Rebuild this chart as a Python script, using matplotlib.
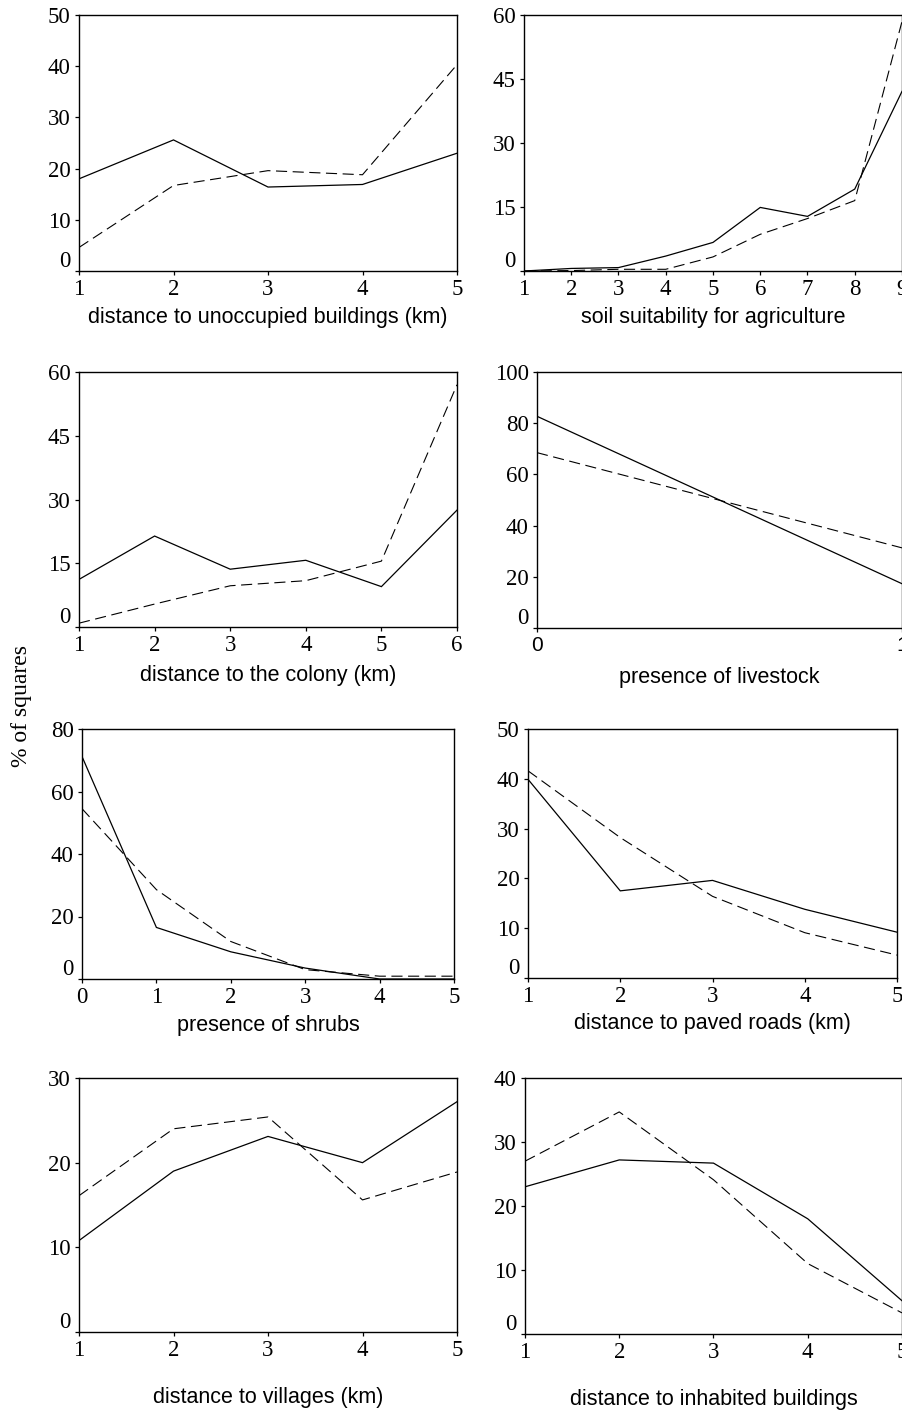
import matplotlib
matplotlib.use("Agg")
import matplotlib.pyplot as plt
import matplotlib.transforms as mtransforms

# ---- data ----
unocc_x = [1, 2, 3, 4, 5]
unocc_solid = [18.0, 25.6, 16.4, 16.9, 23.0]
unocc_dashed = [4.6, 16.7, 19.6, 18.8, 40.3]

soil_x = [1, 2, 3, 4, 5, 6, 7, 8, 9]
soil_solid = [0.0, 0.6, 0.8, 3.5, 6.7, 14.9, 12.8, 19.2, 42.1]
soil_dashed = [0.0, 0.1, 0.4, 0.4, 3.3, 8.6, 12.3, 16.5, 58.5]

colony_x = [1, 2, 3, 4, 5, 6]
colony_solid = [11.2, 21.4, 13.6, 15.7, 9.5, 27.5]
colony_dashed = [0.9, 5.4, 9.7, 10.9, 15.5, 57.0]

livestock_x = [0, 1]
livestock_solid = [82.7, 17.3]
livestock_dashed = [68.5, 31.3]

shrubs_x = [0, 1, 2, 3, 4, 5]
shrubs_solid = [71.2, 16.5, 8.7, 3.5, 0.0, 0.0]
shrubs_dashed = [54.5, 28.6, 12.0, 3.0, 0.9, 0.9]

roads_x = [1, 2, 3, 4, 5]
roads_solid = [39.9, 17.5, 19.6, 13.8, 9.2]
roads_dashed = [41.6, 28.2, 16.4, 9.1, 4.6]

villages_x = [1, 2, 3, 4, 5]
villages_solid = [10.8, 19.0, 23.1, 20.0, 27.2]
villages_dashed = [16.1, 24.0, 25.4, 15.6, 18.9]

inhab_x = [1, 2, 3, 4, 5]
inhab_solid = [23.0, 27.2, 26.7, 18.0, 5.2]
inhab_dashed = [27.0, 34.7, 24.1, 11.0, 3.3]

xlabels = ["distance to unoccupied buildings (km)", "soil suitability for agriculture",
           "distance to the colony (km)", "presence of livestock",
           "presence of shrubs", "distance to paved roads (km)",
           "distance to villages (km)", "distance to inhabited buildings"]
yticks_list = [[0, 10, 20, 30, 40, 50], [0, 15, 30, 45, 60],
               [0, 15, 30, 45, 60], [0, 20, 40, 60, 80, 100],
               [0, 20, 40, 60, 80], [0, 10, 20, 30, 40, 50],
               [0, 10, 20, 30], [0, 10, 20, 30, 40]]
ylabel = "% of squares"

panels = [
    (unocc_x, unocc_solid, unocc_dashed),
    (soil_x, soil_solid, soil_dashed),
    (colony_x, colony_solid, colony_dashed),
    (livestock_x, livestock_solid, livestock_dashed),
    (shrubs_x, shrubs_solid, shrubs_dashed),
    (roads_x, roads_solid, roads_dashed),
    (villages_x, villages_solid, villages_dashed),
    (inhab_x, inhab_solid, inhab_dashed),
]

# ---- layout (pixel boxes: left, right, top, bottom) ----
W, H = 903, 1413
boxes = [(79, 457, 15, 271), (524, 902, 15, 271),
         (79, 457, 372, 627), (537, 902, 372, 628),
         (82, 454, 729, 979), (528, 897, 729, 978),
         (79, 457, 1078, 1332), (525, 902, 1078, 1334)]
xlabel_off = [46, 46, 49, 49, 47, 45, 66, 66]

SERIF = ["Liberation Serif", "DejaVu Serif"]
SANS = ["Liberation Sans", "DejaVu Sans"]

fig = plt.figure(figsize=(W / 100, H / 100), dpi=100)

for i, ((xs, s, d), (l, r, t, b)) in enumerate(zip(panels, boxes)):
    ax = fig.add_axes([l / W, 1 - b / H, (r - l) / W, (b - t) / H])
    ax.plot(xs, s, color="black", lw=0.9, solid_joinstyle="miter")
    ax.plot(xs, d, color="black", lw=0.8, linestyle=(0, (10, 5)))
    yt = yticks_list[i]
    ax.set_xlim(xs[0], xs[-1])
    ax.set_ylim(yt[0], yt[-1])
    ax.set_xticks(xs)
    ax.set_yticks(yt)
    ax.set_xticklabels([str(v) for v in xs])
    ax.set_yticklabels([str(v) for v in yt])
    for sp in ax.spines.values():
        sp.set_linewidth(1.0)
        sp.set_color("black")
    ax.tick_params(direction="out", length=3, width=0.9, pad=3, colors="black")
    for lab in ax.get_yticklabels():
        lab.set_fontfamily(SERIF)
        lab.set_fontsize(16.5)
    for lab in ax.get_xticklabels():
        if i == 3:
            lab.set_fontfamily(SANS)
            lab.set_fontsize(15)
        else:
            lab.set_fontfamily(SERIF)
            lab.set_fontsize(16.5)
    # raise the "0" y tick label, as in the original
    offset = mtransforms.ScaledTranslation(0, 8.6 / 72, fig.dpi_scale_trans)
    ylabs = ax.get_yticklabels()
    ylabs[0].set_transform(ylabs[0].get_transform() + offset)
    ax.set_xlabel(xlabels[i], fontfamily=SANS, fontsize=15.5, va="center")
    ax.xaxis.set_label_coords(0.5, -xlabel_off[i] / (b - t))

fig.text(22 / W, 1 - 706 / H, ylabel, rotation=90, ha="center", va="center",
         fontfamily=SERIF, fontsize=17)

fig.savefig("out.png", dpi=100)
